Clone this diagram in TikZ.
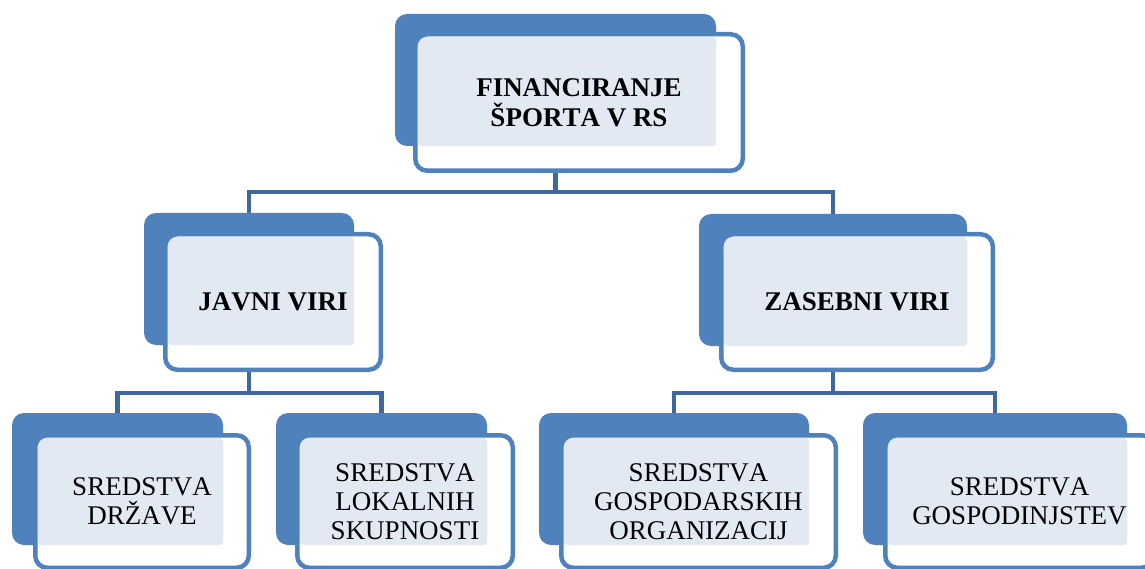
\documentclass[tikz,border=0pt]{standalone}
\usepackage{fontspec}
\setmainfont{Liberation Serif}[Kerning=Off]
\usetikzlibrary{calc, backgrounds}

\definecolor{boxblue}{RGB}{79,129,189}
\definecolor{linkblue}{RGB}{65,104,158}
\definecolor{dotfill}{RGB}{226,233,243}

\begin{document}
\begin{tikzpicture}[x=1pt, y=-1pt,
    backbox/.style={fill=boxblue, rounded corners=12pt, inner sep=0pt},
    frontbox/.style={draw=boxblue, line width=4.5pt, fill=white, rounded corners=12pt,
        inner sep=0pt, align=center, font=\fontsize{27}{29}\selectfont,
        path picture={\fill[dotfill, rounded corners=4pt]
            ([shift={(2.75pt,-2.75pt)}]path picture bounding box.north west) rectangle (#1.south east);}},
    head/.style={font=\fontsize{27}{30}\selectfont\bfseries},
    link/.style={draw=linkblue, line width=4.5pt}]

    \useasboundingbox (0,0) rectangle (1145,569);

    % Top
    \node[backbox, minimum width=321pt, minimum height=132pt] (fin-b) at (555.5,80) {};
    \node[frontbox=fin-b, head, minimum width=327.5pt, minimum height=136.5pt] (fin) at (579,102.5)
        {FINANCIRANJE\\ŠPORTA V RS};

    % Second row
    \node[backbox, minimum width=210pt, minimum height=132pt] (javni-b) at (249,279) {};
    \node[frontbox=javni-b, head, minimum width=215.5pt, minimum height=135.5pt] (javni) at (273,302)
        {JAVNI VIRI};

    \node[backbox, minimum width=268pt, minimum height=132pt] (zasebni-b) at (833,280) {};
    \node[frontbox=zasebni-b, head, minimum width=271.5pt, minimum height=135.5pt] (zasebni) at (857,302)
        {ZASEBNI VIRI};

    % Third row
    \node[backbox, minimum width=211pt, minimum height=132pt] (drz-b) at (117.5,479) {};
    \node[frontbox=drz-b, minimum width=213.5pt, minimum height=132.5pt] (drz) at (142,501.5)
        {SREDSTVA\\DRŽAVE};

    \node[backbox, minimum width=211pt, minimum height=132pt] (lok-b) at (381.5,479) {};
    \node[frontbox=lok-b, minimum width=215.5pt, minimum height=132.5pt] (lok) at (405,501.5)
        {SREDSTVA\\LOKALNIH\\SKUPNOSTI};

    \node[backbox, minimum width=270pt, minimum height=132pt] (gosorg-b) at (674,479) {};
    \node[frontbox=gosorg-b, minimum width=274.5pt, minimum height=132.5pt] (gosorg) at (698.5,501.5)
        {SREDSTVA\\GOSPODARSKIH\\ORGANIZACIJ};

    \node[backbox, minimum width=264pt, minimum height=132pt] (gosgos-b) at (995,479) {};
    \node[frontbox=gosgos-b, minimum width=268.5pt, minimum height=132.5pt] (gosgos) at (1019.5,501.5)
        {SREDSTVA\\GOSPODINJSTEV};

    % Connectors
    \coordinate (fin-bus) at ($(fin-b |- fin.south)+(0,19)$);
    \coordinate (javni-bus) at ($(javni-b |- javni.south)+(0,21)$);
    \coordinate (zasebni-bus) at ($(zasebni-b |- zasebni.south)+(0,21)$);

    \begin{scope}[on background layer]
        \draw[link] (fin-b |- fin.south) -- (fin-bus);
        \draw[link] (javni-b.north) |- (fin-bus) -| (zasebni-b.north);

        \draw[link] (javni-b |- javni.south) -- (javni-bus);
        \draw[link] (drz-b.north) |- (javni-bus) -| (lok-b.north);

        \draw[link] (zasebni-b |- zasebni.south) -- (zasebni-bus);
        \draw[link] (gosorg-b.north) |- (zasebni-bus) -| (gosgos-b.north);
    \end{scope}
\end{tikzpicture}
\end{document}
